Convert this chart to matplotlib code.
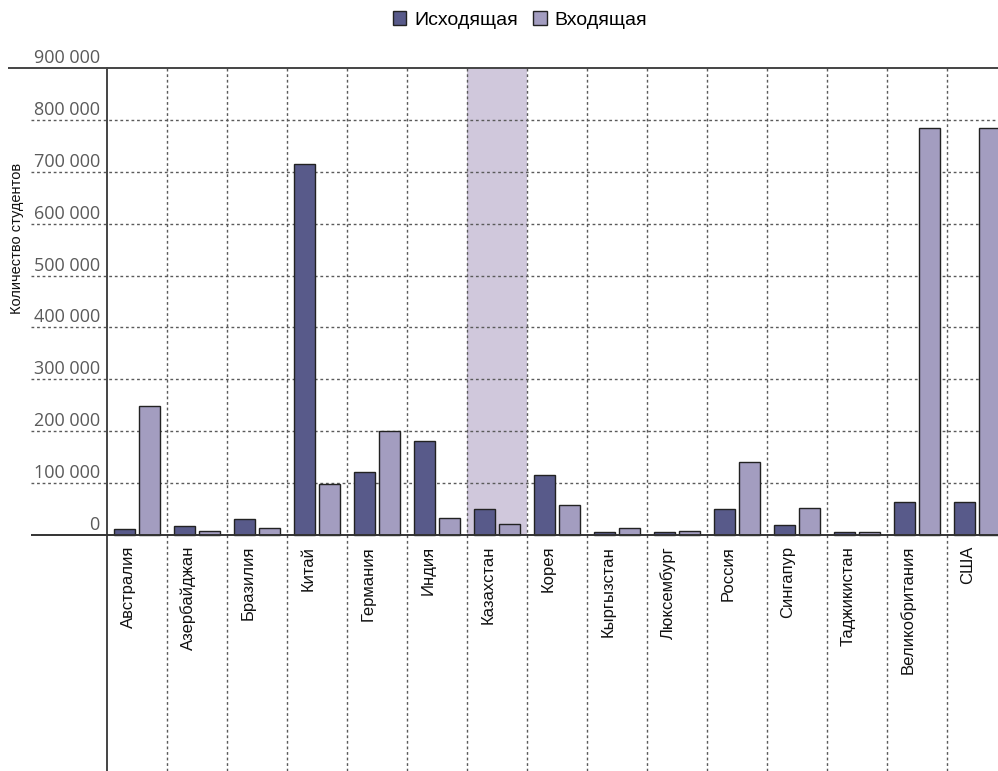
import numpy as np
import matplotlib
matplotlib.use('Agg')
import matplotlib.pyplot as plt
from matplotlib.transforms import offset_copy
from matplotlib.patches import Patch

# data
countries = ['Австралия', 'Азербайджан', 'Бразилия', 'Китай', 'Германия', 'Индия',
             'Казахстан', 'Корея', 'Кыргызстан', 'Люксембург', 'Россия', 'Сингапур',
             'Таджикистан', 'Великобритания', 'США']
outgoing = [12000, 18000, 30000, 715000, 121000, 181000, 50000, 116000,
            6000, 6000, 50000, 20000, 6000, 64000, 64000]
incoming = [248000, 8000, 14000, 98000, 200000, 33000, 21000, 58000,
            13000, 7000, 141000, 52000, 6000, 785000, 785000]
yticks = [0, 100000, 200000, 300000, 400000, 500000, 600000, 700000, 800000, 900000]
ytick_labels = ['0', '100 000', '200 000', '300 000', '400 000', '500 000',
                '600 000', '700 000', '800 000', '900 000']
highlight = 'Казахстан'

c_out = '#585a8a'
c_in = '#a39dc0'
c_hl = '#d0c8dc'
grid_c = '#5a5a5a'
sans = ['Liberation Sans', 'DejaVu Sans']

fig = plt.figure(figsize=(9.98, 7.71), dpi=100)
# axes runs a bit past the right edge like in the original
ax = fig.add_axes([107 / 998, 0.0, 900 / 998, 1 - 68 / 771])
ax.set_xlim(0, len(countries))
ax.set_ylim(-455000, 900000)

x = np.arange(len(countries))
ax.bar(x + 0.29, outgoing, width=0.35, color=c_out, edgecolor='#222222', linewidth=1, zorder=3)
ax.bar(x + 0.71, incoming, width=0.35, color=c_in, edgecolor='#222222', linewidth=1, zorder=3)

# highlighted column
k = countries.index(highlight)
ax.fill_between([k, k + 1], 0, 900000, color=c_hl, linewidth=0, zorder=0)

# grid
ytr = ax.get_yaxis_transform()
ax.hlines(yticks[1:-1], -0.0844, 1, transform=ytr, clip_on=False,
          colors=grid_c, linestyles=(0, (2, 2)), linewidth=1, zorder=1)
ax.hlines([0], -0.0844, 1, transform=ytr, clip_on=False,
          colors='#333333', linewidth=1.4, zorder=4)
ax.hlines([900000], -0.11, 1, transform=ytr, clip_on=False,
          colors='#444444', linewidth=1.4, zorder=4)
ax.vlines(np.arange(1, len(countries) + 1), 0, 1, transform=ax.get_xaxis_transform(),
          colors=grid_c, linestyles=(0, (2, 2)), linewidth=1, zorder=1)

for s in ['top', 'right', 'bottom']:
    ax.spines[s].set_visible(False)
ax.spines['left'].set_color('#444444')
ax.spines['left'].set_linewidth(1.4)
ax.set_xticks([])
ax.set_yticks([])

# y tick labels sit above the grid lines
tl_tr = offset_copy(ytr, fig=fig, y=5, units='dots')
for v, lab in zip(yticks, ytick_labels):
    ax.text(-0.008, v, lab, transform=tl_tr, ha='right', va='baseline',
            fontsize=13, family=['Open Sans', 'DejaVu Sans'], color='#5a5a5a')

# category labels
cl_tr = offset_copy(ax.transData, fig=fig, y=-11, units='dots')
for i, name in enumerate(countries):
    ax.text(i + 0.5 - 0.15, 0, name, transform=cl_tr, rotation=90, ha='center', va='top',
            fontsize=12, family=sans, color='#111111')

fig.text(17 / 998, 1 - 238 / 771, 'Количество студентов', rotation=90, ha='center', va='center',
         fontsize=10.5, family=sans, color='#111111')

handles = [Patch(facecolor=c_out, edgecolor='#222222', linewidth=1),
           Patch(facecolor=c_in, edgecolor='#222222', linewidth=1)]
fig.legend(handles, ['Исходящая', 'Входящая'], loc='center', bbox_to_anchor=(520 / 998, 1 - 20 / 771),
           ncol=2, frameon=False, handlelength=0.7, handleheight=0.7, handletextpad=0.4,
           columnspacing=0.8, prop={'family': sans, 'size': 14})

fig.savefig('out.png', dpi=100)
